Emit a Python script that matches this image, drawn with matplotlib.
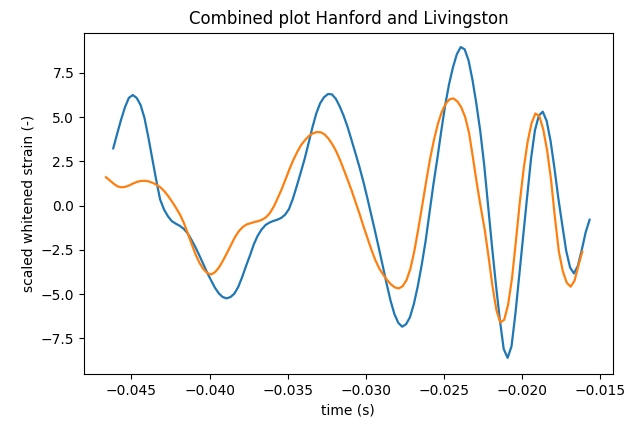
import matplotlib
matplotlib.use("Agg")
import matplotlib.pyplot as plt
import numpy as np

# sampling step of both traces (s)
dt = 0.00025

# Hanford trace: start time and whitened strain samples
t0_hanford = -0.046167
strain_hanford = [
    3.23, 4.05, 4.84, 5.55, 6.08, 6.24, 6.08, 5.68, 4.95, 3.85,
    2.65, 1.45, 0.35, -0.22, -0.60, -0.88, -1.02, -1.14, -1.30, -1.55,
    -1.92, -2.33, -2.79, -3.27, -3.76, -4.20, -4.62, -4.95, -5.16, -5.24,
    -5.17, -4.98, -4.60, -4.05, -3.42, -2.83, -2.19, -1.70, -1.35, -1.10,
    -0.96, -0.87, -0.80, -0.70, -0.52, -0.20, 0.38, 1.10, 1.85, 2.62,
    3.50, 4.40, 5.20, 5.78, 6.12, 6.30, 6.28, 6.03, 5.60, 5.07,
    4.45, 3.72, 2.98, 2.22, 1.40, 0.50, -0.45, -1.40, -2.38, -3.38,
    -4.40, -5.35, -6.12, -6.62, -6.84, -6.70, -6.30, -5.55, -4.55, -3.35,
    -2.00, -0.40, 1.20, 2.65, 4.20, 5.65, 6.85, 7.80, 8.55, 8.95,
    8.82, 8.20, 7.10, 5.75, 4.20, 2.30, 0.00, -2.30, -4.45, -6.43,
    -8.10, -8.60, -7.95, -6.10, -3.90, -1.70, 0.50, 2.65, 4.25, 5.08,
    5.30, 4.78, 3.65, 2.10, 0.40, -1.10, -2.55, -3.50, -3.83, -3.40,
    -2.50, -1.50, -0.80,
]

# Livingston trace (shifted and inverted)
t0_livingston = -0.046635
strain_livingston = [
    1.60, 1.42, 1.23, 1.08, 1.03, 1.06, 1.14, 1.25, 1.34, 1.39,
    1.40, 1.36, 1.28, 1.17, 1.02, 0.80, 0.52, 0.20, -0.15, -0.52,
    -1.00, -1.60, -2.20, -2.78, -3.25, -3.60, -3.82, -3.89, -3.75, -3.48,
    -3.10, -2.68, -2.24, -1.80, -1.46, -1.22, -1.07, -1.00, -0.93, -0.88,
    -0.80, -0.66, -0.42, -0.05, 0.42, 0.92, 1.48, 2.05, 2.58, 3.03,
    3.42, 3.70, 3.93, 4.08, 4.15, 4.14, 4.02, 3.78, 3.45, 3.05,
    2.55, 1.98, 1.40, 0.80, 0.15, -0.50, -1.20, -1.85, -2.50, -3.08,
    -3.55, -3.90, -4.20, -4.45, -4.62, -4.68, -4.55, -4.20, -3.55, -2.55,
    -1.32, 0.00, 1.34, 2.62, 3.70, 4.60, 5.28, 5.75, 6.00, 6.05,
    5.88, 5.55, 5.00, 4.10, 2.70, 1.23, -0.10, -1.35, -2.90, -4.55,
    -5.90, -6.60, -6.45, -5.60, -4.10, -2.00, 0.20, 2.10, 3.60, 4.65,
    5.20, 5.05, 4.30, 3.10, 1.45, -0.70, -2.60, -3.70, -4.35, -4.58,
    -4.25, -3.40, -2.60,
]

t_hanford = t0_hanford + dt * np.arange(len(strain_hanford))
t_livingston = t0_livingston + dt * np.arange(len(strain_livingston))

fig = plt.figure(figsize=(6.3, 4.26), dpi=100)
ax = fig.add_axes([0.1333, 0.1221, 0.8392, 0.8011])

ax.plot(t_hanford, strain_hanford, color="#1f77b4", linewidth=1.6)
ax.plot(t_livingston, strain_livingston, color="#ff7f0e", linewidth=1.6)

ax.set_xlim(-0.04804, -0.01419)
ax.set_ylim(-9.51, 9.76)
ax.set_xticks([-0.045, -0.040, -0.035, -0.030, -0.025, -0.020, -0.015])
ax.set_yticks([-7.5, -5.0, -2.5, 0.0, 2.5, 5.0, 7.5])

ax.set_xlabel("time (s)")
ax.set_ylabel("scaled whitened strain (-)")
ax.set_title("Combined plot Hanford and Livingston")

fig.savefig("out.png", dpi=100)
